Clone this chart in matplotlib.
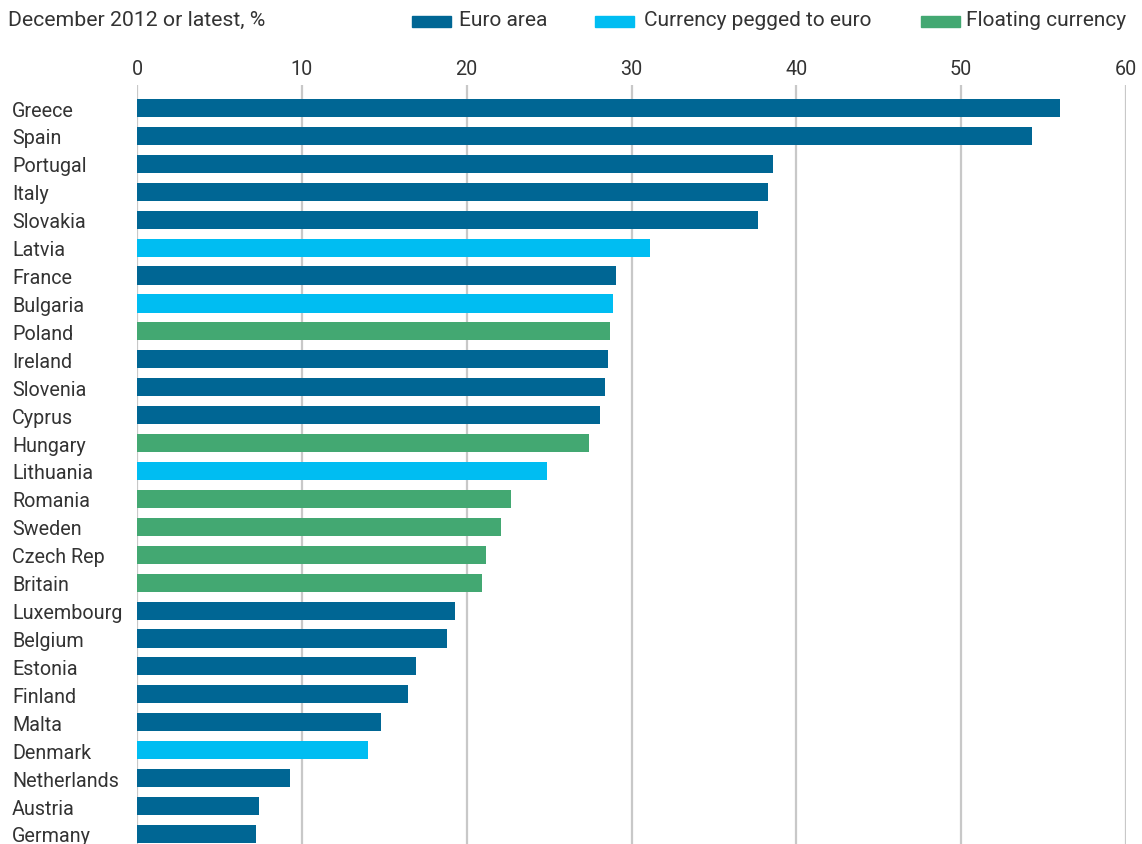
import matplotlib
matplotlib.use('Agg')
import matplotlib.pyplot as plt
from matplotlib.patches import Rectangle

# data
countries = ['Greece', 'Spain', 'Portugal', 'Italy', 'Slovakia', 'Latvia', 'France',
             'Bulgaria', 'Poland', 'Ireland', 'Slovenia', 'Cyprus', 'Hungary', 'Lithuania',
             'Romania', 'Sweden', 'Czech Rep', 'Britain', 'Luxembourg', 'Belgium', 'Estonia',
             'Finland', 'Malta', 'Denmark', 'Netherlands', 'Austria', 'Germany']
values = [56.0, 54.3, 38.6, 38.3, 37.7, 31.1, 29.05, 28.85, 28.7, 28.6, 28.4, 28.1, 27.4,
          24.9, 22.7, 22.1, 21.2, 20.9, 19.3, 18.8, 16.9, 16.45, 14.8, 14.0, 9.3, 7.4, 7.2]
groups = ['euro', 'euro', 'euro', 'euro', 'euro', 'peg', 'euro', 'peg', 'float', 'euro',
          'euro', 'euro', 'float', 'peg', 'float', 'float', 'float', 'float', 'euro', 'euro',
          'euro', 'euro', 'euro', 'peg', 'euro', 'euro', 'euro']
group_keys = ['euro', 'peg', 'float']
group_labels = ['Euro area', 'Currency pegged to euro', 'Floating currency']
group_colors = {'euro': '#006694', 'peg': '#00bdf2', 'float': '#43a872'}
xticks = [0, 10, 20, 30, 40, 50, 60]

W, H = 1142, 845
fam = ['Roboto', 'DejaVu Sans']
txt = '#333333'
fs = 14.2

fig = plt.figure(figsize=(W / 100, H / 100), dpi=100)
ax = fig.add_axes([137 / W, 0, (1126 - 137) / W, (845 - 86) / H])

ypos = list(range(len(countries)))
ax.barh(ypos, values, height=0.65, color=[group_colors[g] for g in groups], zorder=2)

ax.set_xlim(0, 60)
ax.set_ylim(26.36, -0.824)
ax.set_xticks(xticks)
ax.xaxis.tick_top()
ax.grid(axis='x', color='#c8c8c8', lw=1.6, zorder=0)
ax.set_axisbelow(True)
for s in ax.spines.values():
    s.set_visible(False)

ax.set_yticks(ypos)
ax.set_yticklabels(countries)
ax.tick_params(axis='x', length=0, pad=5, labelsize=fs, labelcolor=txt)
ax.tick_params(axis='y', length=0, pad=90, labelsize=fs, labelcolor=txt)
for lab in ax.get_xticklabels() + ax.get_yticklabels():
    lab.set_family(fam)
for lab in ax.get_yticklabels():
    lab.set_ha('left')
    lab.set_va('center_baseline')

fig.text(8 / W, 1 - 20 / H, 'December 2012 or latest, %', fontsize=15.3, color=txt,
         family=fam, va='center', ha='left')

# legend drawn by hand across the top
patch_x = [412, 595, 921]
text_x = [459, 644, 966]
for px, tx, key, lab in zip(patch_x, text_x, group_keys, group_labels):
    fig.add_artist(Rectangle((px / W, 1 - 28 / H), 39 / W, 11 / H,
                             transform=fig.transFigure, color=group_colors[key]))
    fig.text(tx / W, 1 - 20 / H, lab, fontsize=15, color=txt, family=fam,
             va='center', ha='left')

plt.savefig('out.png', dpi=100)
